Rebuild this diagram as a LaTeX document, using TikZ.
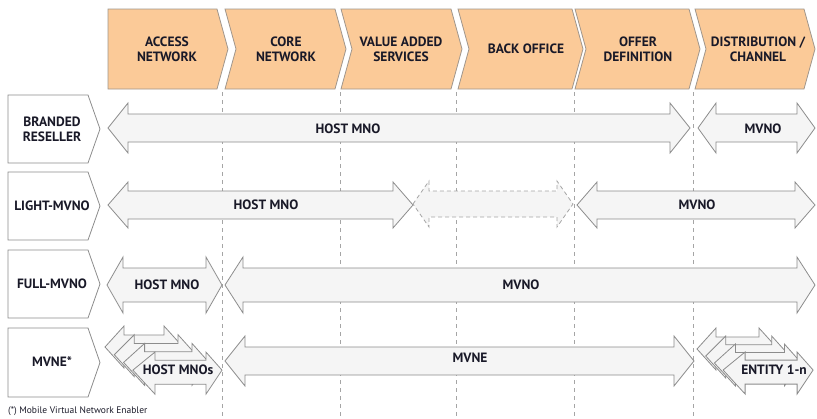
\documentclass[tikz,border=0pt]{standalone}
\usepackage{fontspec}
\setmainfont{PT Sans}
\definecolor{hdrfill}{RGB}{251,202,152}
\definecolor{hdrline}{RGB}{160,150,140}
\definecolor{arrfill}{RGB}{245,245,245}
\definecolor{arrline}{RGB}{140,140,140}
\definecolor{txt}{RGB}{25,25,40}
\definecolor{dashc}{RGB}{165,165,165}
\tikzset{
  hdr/.style={fill=hdrfill,draw=hdrline,line width=0.8pt,line join=miter},
  lbl/.style={fill=white,draw=arrline,line width=0.8pt},
  arr/.style={fill=arrfill,draw=arrline,line width=0.8pt},
  dasharr/.style={draw=dashc,dash pattern=on 4pt off 3pt},
  guide/.style={draw=dashc,line width=0.8pt,dash pattern=on 4pt off 4pt},
  tt/.style={text=txt,font=\bfseries\fontsize{13.5}{15}\selectfont,align=center,inner sep=0pt},
  foot/.style={text=txt,font=\fontsize{9.5}{11}\selectfont,inner sep=0pt,anchor=west}
}
% [opts]{x1}{x2}{yc}{head half}{shaft half}{head length}
\newcommand\dblarr[7][]{%
  \draw[arr,#1] (#2,#4) -- ({#2+#7},{#4-#5}) -- ({#2+#7},{#4-#6}) -- ({#3-#7},{#4-#6})
   -- ({#3-#7},{#4-#5}) -- (#3,#4) -- ({#3-#7},{#4+#5}) -- ({#3-#7},{#4+#6})
   -- ({#2+#7},{#4+#6}) -- ({#2+#7},{#4+#5}) -- cycle;}
% {xl}{xtip}{notch depth}
\newcommand\chevshape[3]{%
  \draw[hdr] (#1,9) -- ({#2-11},9) -- (#2,49) -- ({#2-11},89) -- (#1,89) -- ({#1+#3},49) -- cycle;}
% {ytop}{ybottom}
\newcommand\rowshape[2]{%
  \draw[lbl] (8,#1) -- (88,#1) -- (100,{(#1+#2)/2}) -- (88,#2) -- (8,#2) -- cycle;}
\begin{document}
\begin{tikzpicture}[x=1pt,y=-1pt]
\useasboundingbox (0,0) rectangle (817,418);
% header chevrons
\chevshape{108}{228}{0}
\chevshape{225}{346}{11}
\chevshape{341}{462}{11}
\chevshape{458}{583}{11}
\chevshape{575}{700}{11}
\chevshape{695}{815}{11}
\node[tt] (h1) at (167,49) {ACCESS\\NETWORK};
\node[tt] (h2) at (286,49) {CORE\\NETWORK};
\node[tt] (h3) at (401,49) {VALUE ADDED\\SERVICES};
\node[tt] (h4) at (526,49) {BACK OFFICE};
\node[tt] (h5) at (638,49) {OFFER\\DEFINITION};
\node[tt] (h6) at (758,49) {DISTRIBUTION /\\CHANNEL};
% guides
\foreach \gx in {222,340,456,574,693} \draw[guide] (\gx,92) -- (\gx,418);
% row labels
\rowshape{95}{163}
\rowshape{172}{240}
\rowshape{250}{318}
\rowshape{328}{397}
\node[tt] (r1) at (52,129) {BRANDED\\RESELLER};
\node[tt] (r2) at (52,206) {LIGHT-MVNO};
\node[tt] (r3) at (52,284) {FULL-MVNO};
\node[tt] (r4) at (52,362) {MVNE*};
% branded reseller
\dblarr{108}{690}{128}{25}{14}{20}
\dblarr{698}{815}{128}{25}{14}{18}
\node[tt] (a1) at (348,129) {HOST MNO};
\node[tt] (a2) at (763,129) {MVNO};
% light mvno
\dblarr{108}{413}{205}{23}{14}{20}
\dblarr[dasharr]{413}{573}{204}{23}{13}{16}
\dblarr{577}{815}{205}{23}{14}{20}
\node[tt] (b1) at (266,205) {HOST MNO};
\node[tt] (b2) at (697,205) {MVNO};
% full mvno
\dblarr{107}{222}{285}{28}{17}{16}
\dblarr{225}{815}{285}{28}{17}{18}
\node[tt] (c1) at (167,285) {HOST MNO};
\node[tt] (c2) at (521,285) {MVNO};
% mvne
\dblarr{225}{694}{361}{25}{14}{20}
\node[tt] (d1) at (470,358) {MVNE};
\foreach \i in {0,1,2,3} {
  \dblarr{105+9.3*\i}{183+13*\i}{347+7.7*\i}{21+\i}{12+0.7*\i}{19+\i}
}
\node[tt] (d0) at (178,370) {HOST MNOs};
\foreach \i in {0,1,2,3} {
  \dblarr{697+8.7*\i}{778+11.7*\i}{349+7*\i}{21+\i}{12+0.7*\i}{19+\i}
}
\node[tt] (d2) at (774,370) {ENTITY 1-n};
% footnote
\node[foot] (fn) at (8,411) {(*) Mobile Virtual Network Enabler};
\end{tikzpicture}
\end{document}
